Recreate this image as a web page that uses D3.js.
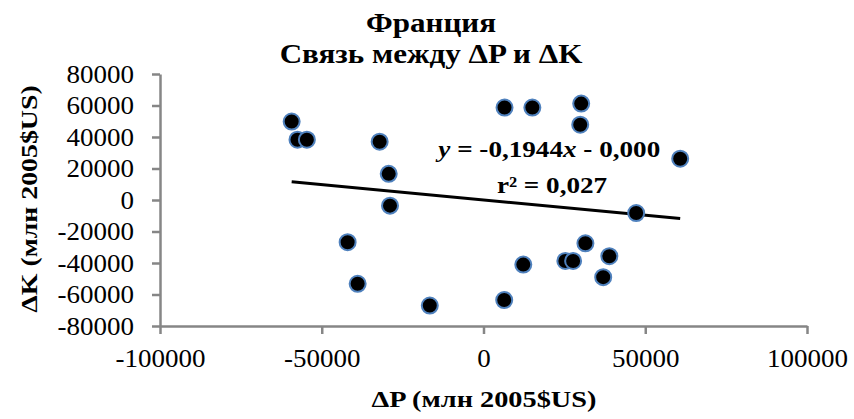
<!DOCTYPE html>
<html>
<head>
<meta charset="utf-8">
<script src="https://cdn.jsdelivr.net/npm/d3@7/dist/d3.min.js"></script>
<style>
  body { margin: 0; background: #fff; }
  svg text { font-family: "Liberation Serif", "Times New Roman", serif; fill: #000; }
  .axis path, .axis line { stroke: #868686; stroke-width: 2.5; }
  .axis text { font-size: 25px; transform-box: fill-box; }
  .axis.y text { transform-origin: 100% 50%; transform: scaleX(1.08); }
  .axis.x text { transform-origin: 50% 50%; transform: scaleX(1.08); }
  .bold { font-weight: bold; }
  .wide { transform-box: fill-box; transform-origin: 50% 50%; }
</style>
</head>
<body>
<svg id="chart" width="854" height="419"></svg>
<script>
// data (ΔP, ΔK in млн 2005$US)
const deltaP = [-59300, -57500, -54600, -32100, -29300, -28900, -42000, -38900, -16600,
                 6500, 15100, 30200, 29900, 60800, 47200, 31500, 25300, 27700, 38900, 37000,
                 12300, 6400];
const deltaK = [49800, 38300, 38300, 37000, 16600, -3600, -26800, -53200, -67000,
                58700, 58700, 61200, 47800, 26200, -8300, -27500, -38700, -38700, -35700, -49000,
                -41000, -63500];
const slope = -0.1944;
const intercept = 0;
const xTicks = [-100000, -50000, 0, 50000, 100000];
const yTicks = [-80000, -60000, -40000, -20000, 0, 20000, 40000, 60000, 80000];
const titleLines = ["Франция", "Связь между ΔP и ΔK"];

const serif = "Liberation Serif, Times New Roman, serif";
const svg = d3.select("svg#chart").attr("font-family", serif);
const width = +svg.attr("width");
const height = +svg.attr("height");
const margin = {left: 160, right: 47, top: 74, bottom: 93};

const x = d3.scaleLinear().domain([-100000, 100000]).range([margin.left, width - margin.right]);
const y = d3.scaleLinear().domain([-80000, 80000]).range([height - margin.bottom, margin.top]);

// axes
const yAxis = svg.append("g").attr("class", "axis y")
    .attr("transform", `translate(${margin.left},0)`)
    .call(d3.axisLeft(y).tickValues(yTicks).tickSize(8).tickPadding(18).tickSizeOuter(0)
            .tickFormat(d3.format("d")));
const xAxis = svg.append("g").attr("class", "axis x")
    .attr("transform", `translate(0,${height - margin.bottom})`)
    .call(d3.axisBottom(x).tickValues(xTicks).tickSize(8).tickPadding(15).tickSizeOuter(0)
            .tickFormat(d3.format("d")));
yAxis.attr("font-family", serif).attr("font-size", null);
xAxis.attr("font-family", serif).attr("font-size", null);
svg.selectAll(".axis text").text(function() {
    return d3.select(this).text().replace("−", "-");
});

// trend line over the data range
const xExt = d3.extent(deltaP);
svg.append("line")
    .attr("x1", x(xExt[0])).attr("y1", y(slope * xExt[0] + intercept))
    .attr("x2", x(xExt[1])).attr("y2", y(slope * xExt[1] + intercept))
    .attr("stroke", "#000").attr("stroke-width", 3);

// points
svg.append("g").selectAll("circle")
    .data(deltaP.map((p, i) => [p, deltaK[i]]))
    .join("circle")
    .attr("cx", d => x(d[0]))
    .attr("cy", d => y(d[1]))
    .attr("r", 8)
    .attr("fill", "#000")
    .attr("stroke", "#4f81bd")
    .attr("stroke-width", 2);

// title
svg.selectAll("text.title").data(titleLines).join("text")
    .attr("class", "title bold wide")
    .attr("x", 431).attr("y", (d, i) => 32 + i * 31)
    .attr("text-anchor", "middle")
    .attr("font-size", "28px")
    .style("transform", "scaleX(1.11)")
    .text(d => d);

// equation
const eq = svg.append("text").attr("class", "bold wide")
    .attr("x", 549).attr("y", 157).attr("text-anchor", "middle").attr("font-size", "23px")
    .style("transform", "scaleX(1.18)");
eq.append("tspan").attr("font-style", "italic").text("y");
eq.append("tspan").text(" = -0,1944");
eq.append("tspan").attr("font-style", "italic").text("x");
eq.append("tspan").text(" - 0,000");
svg.append("text").attr("class", "bold wide")
    .attr("x", 552).attr("y", 193).attr("text-anchor", "middle").attr("font-size", "23px")
    .style("transform", "scaleX(1.18)")
    .text("r² = 0,027");

// axis titles
svg.append("text").attr("class", "bold wide")
    .attr("x", 484).attr("y", 407).attr("text-anchor", "middle").attr("font-size", "24px")
    .style("transform", "scaleX(1.18)")
    .text("ΔP (млн  2005$US)");
svg.append("text").attr("class", "bold")
    .attr("transform", "translate(37,199) rotate(-90) scale(1.16,1)")
    .attr("text-anchor", "middle").attr("font-size", "24px")
    .text("ΔK (млн  2005$US)");
</script>
</body>
</html>
